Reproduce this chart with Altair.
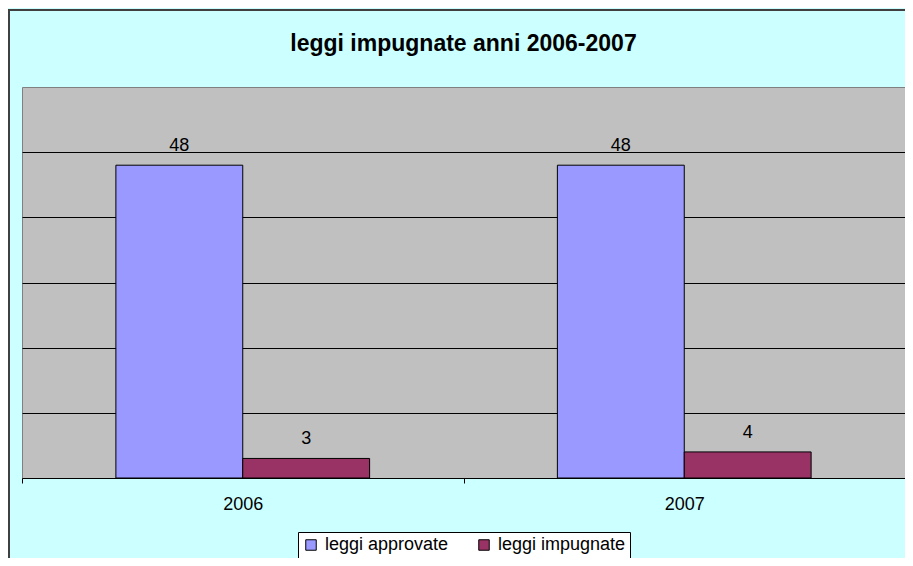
import altair as alt
import pandas as pd

years = ["2006", "2007"]
series = ["leggi approvate", "leggi impugnate"]
approvate = [48, 48]
impugnate = [3, 4]
colors = ["#9999FF", "#993366"]

rows = []
for i, y in enumerate(years):
    rows.append({"anno": y, "serie": series[0], "valore": approvate[i]})
    rows.append({"anno": y, "serie": series[1], "valore": impugnate[i]})
df = pd.DataFrame(rows)

FONT = "Liberation Sans"

x = alt.X("anno:N", sort=years,
          scale=alt.Scale(paddingInner=0, paddingOuter=0),
          axis=alt.Axis(title=None, labelAngle=0, tickBand="extent", tickSize=5,
                        tickColor="black", domainColor="black", labelPadding=12,
                        labelFontSize=18, labelFont=FONT, labelColor="black", grid=False))
xo = alt.XOffset("serie:N", sort=series,
                 scale=alt.Scale(domain=series, paddingOuter=0.74, paddingInner=0))
y = alt.Y("valore:Q", scale=alt.Scale(domain=[0, 60], nice=False),
          axis=alt.Axis(values=[10, 20, 30, 40, 50], grid=True, labels=False, ticks=False,
                        domain=False, title=None, gridColor="black", gridOpacity=1,
                        gridWidth=1))

base = alt.Chart(df)

bars = base.mark_bar(stroke="black", strokeWidth=1).encode(
    x=x, xOffset=xo, y=y,
    color=alt.Color("serie:N", sort=series,
                    scale=alt.Scale(domain=series, range=colors),
                    legend=alt.Legend(title=None, orient="none", legendX=276, legendY=445,
                                      direction="horizontal", fillColor="white",
                                      strokeColor="black", padding=4, symbolType="square",
                                      symbolSize=110, symbolStrokeColor="black",
                                      symbolStrokeWidth=1, labelFontSize=18, labelFont=FONT,
                                      labelColor="black", columnPadding=26, labelOffset=5)),
)

labels = base.mark_text(baseline="alphabetic", dy=-14, fontSize=18, font=FONT,
                        color="black").encode(
    x=x, xOffset=xo, y=y, text="valore:Q"
)

border = alt.Chart(pd.DataFrame({"a": [0]})).mark_rect(
    fillOpacity=0, stroke="#404040", strokeWidth=2
).encode(
    x=alt.value(-13), x2=alt.value(920), y=alt.value(-77), y2=alt.value(520)
)

chart = alt.layer(bars, labels, border).properties(
    width=883, height=391,
    autosize=alt.AutoSizeParams(type="none"),
    padding={"left": 14, "top": 79, "right": 0, "bottom": 80},
    background="#CCFFFF",
    title=alt.Title("leggi impugnate anni 2006-2007", fontSize=23, fontWeight="bold",
                    font=FONT, anchor="middle", baseline="middle", offset=-58,
                    color="black"),
).configure_view(fill="#C0C0C0", stroke="#808080", strokeWidth=1)

chart.save("out.html", embed_options={"renderer": "svg", "actions": False})
